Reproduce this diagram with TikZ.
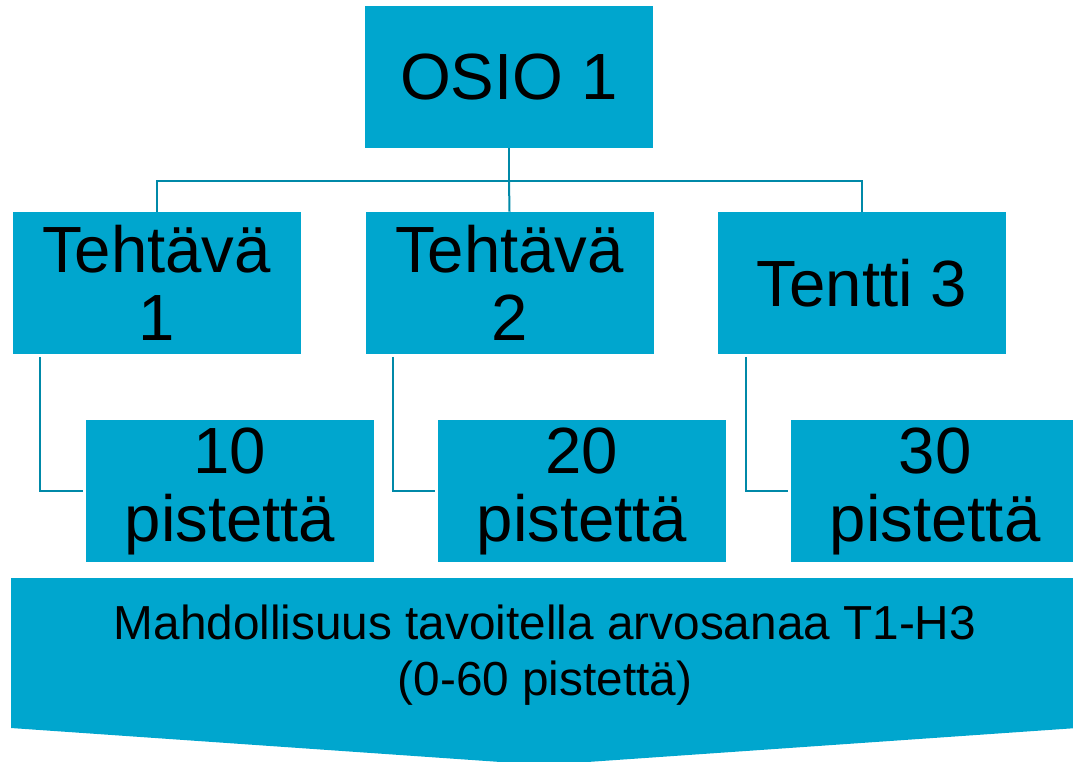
\documentclass[tikz,border=0pt]{standalone}
\usepackage{fontspec}
\setmainfont{Liberation Sans}
\usepackage{tikz}
\usetikzlibrary{positioning,calc}
\definecolor{osioblue}{RGB}{0,166,206}
\definecolor{osioline}{RGB}{0,137,168}
\newcommand{\boxfont}{\fontsize{49}{51}\selectfont}
\newcommand{\totalfont}{\fontsize{35.8}{42}\selectfont}
\tikzset{
  osiobox/.style={fill=osioblue, minimum width=216pt, minimum height=106.5pt, inner sep=0pt, align=center, font=\boxfont},
  conn/.style={draw=osioline, line width=1.5pt}
}
\begin{document}
\begin{tikzpicture}[x=0.75pt, y=-0.75pt]
\useasboundingbox (0,0) rectangle (1073,761);
\clip (0,0) rectangle (1073,761);
% top level and tasks
\node[osiobox] (osio) at (509,77) {OSIO 1};
\node[osiobox] (t1) at (156.5,283) {Teht\"av\"a\\1};
\node[osiobox] (t2) at (509.5,283) {Teht\"av\"a\\2};
\node[osiobox] (t3) at (862,283) {Tentti 3};
% points
\node[osiobox] (p1) at (230,491) {10\\pistett\"a};
\node[osiobox] (p2) at (582,491) {20\\pistett\"a};
\node[osiobox] (p3) at (935,491) {30\\pistett\"a};
% connectors
\coordinate (bus) at (509,181);
\draw[conn] (osio.south) -- (bus);
\draw[conn] (t1.north) |- (bus) -| (t3.north);
\draw[conn] (bus) -- (t2.north);
\foreach \i in {1,2,3} \draw[conn, shorten <=2pt, shorten >=2pt] ([xshift=21pt]t\i.south west) |- (p\i.west);
% total arrow
\fill[osioblue] (11,578) -- (1077,578) -- (1077,728) -- (544,765) -- (11,728) -- cycle;
\node[align=center, font=\totalfont] (total) at (545,655) {Mahdollisuus tavoitella arvosanaa T1-H3\\(0-60 pistett\"a)};
\end{tikzpicture}
\end{document}
